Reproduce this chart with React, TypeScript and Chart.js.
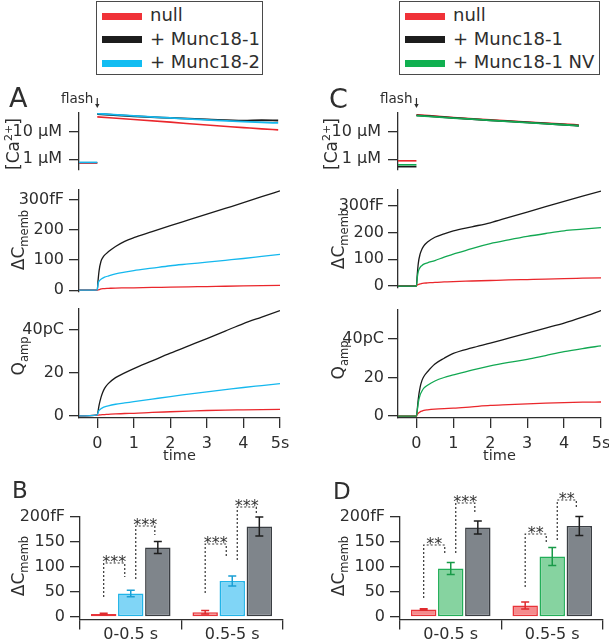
import React, { useEffect, useRef } from "react";
import { Chart, registerables } from "chart.js";
Chart.register(...registerables);

// ---------------- data ----------------
const X_TICKS = [0, 1, 2, 3, 4, 5];
const T = [-0.5, 0, 0.02, 0.05, 0.1, 0.15, 0.2, 0.3, 0.5, 0.75, 1, 1.5, 2, 2.5, 3, 3.5, 4, 4.5, 5];

// Panel A: ΔCmemb (fF)
const DC_A_NULL = [0, 0.5, 1, 2, 4, 5, 5.5, 6, 7, 7.5, 8, 9, 10, 11, 12, 13, 14, 15, 16];
const DC_A_M1 = [0, 1, 30, 65, 95, 108, 116, 127, 145, 162, 174, 194, 214, 233, 252, 271, 290, 310, 329];
const DC_A_M2 = [0, 1, 20, 30, 36, 40, 43, 47, 54, 60, 65, 73, 81, 87, 93, 99, 105, 112, 119];
// Panel A: Qamp (pC)
const Q_A_NULL = [0, 0.3, 0.35, 0.4, 0.5, 0.55, 0.6, 0.7, 0.9, 1.1, 1.2, 1.6, 1.9, 2.2, 2.5, 2.7, 2.8, 2.9, 3.0];
const Q_A_M1 = [0, 0.5, 2, 5, 8.5, 11, 12.8, 15, 17.8, 20, 22, 25.6, 29.2, 32.6, 36, 39.5, 43, 46, 49];
const Q_A_M2 = [0, 0.5, 1.5, 2.5, 3.3, 3.8, 4.2, 4.7, 5.4, 6, 6.6, 7.8, 9, 10.1, 11.2, 12.2, 13.2, 14.1, 15];
// Panel C: ΔCmemb (fF)
const DC_C_NULL = [1, 1, 4, 6, 8, 10, 11, 12, 14, 15.5, 17, 19, 21, 23, 24.5, 26, 28, 29.5, 31];
const DC_C_M1 = [0, 0, 40, 85, 120, 138, 150, 164, 182, 195, 206, 221, 236, 256, 276, 296, 316, 335, 354];
const DC_C_NV = [0, 0, 30, 55, 70, 77, 82, 87, 95, 108, 119, 140, 158, 172, 185, 196, 206, 212, 218];
// Panel C: Qamp (pC)
const Q_C_NULL = [0, 0, 0.8, 1.5, 2.2, 2.6, 2.9, 3.2, 3.6, 3.9, 4.1, 4.8, 5.5, 5.9, 6.3, 6.7, 7.0, 7.2, 7.3];
const Q_C_M1 = [0, 0, 3, 9, 15, 18.5, 20.5, 23, 27, 30, 32.5, 35.3, 37.8, 40.4, 43, 45.6, 48.2, 51.3, 54.7];
const Q_C_NV = [0, 0, 2.5, 7, 11, 13, 14.5, 16, 18.2, 20, 21.3, 23.8, 26, 27.8, 29.4, 31.4, 33.4, 35, 36.4];

// [Ca2+] (µM): pre-flash level and post-flash decay
const CA_PRE_TIME = [-0.5, 0];
const CA_PRE_A = [0.72, 0.74, 0.76]; // null, +Munc18-1, +Munc18-2
const CA_PRE_C = [0.87, 0.53, 0.62]; // null, +Munc18-1, +Munc18-1 NV
const CA_TIME_A = [0, 1, 2, 3, 4, 4.5, 4.95];
const CA_A_NULL = [36, 29, 23, 18, 14.5, 13, 12];
const CA_A_M1 = [46, 38, 33, 29, 26, 27, 26.5];
const CA_A_M2 = [48, 39, 33, 28, 24, 22.5, 21.5];
const CA_TIME_C = [0, 1, 2, 3, 4, 4.4];
const CA_C_NULL = [43, 34, 28, 23, 19.5, 18];
const CA_C_M1 = [41, 33, 27, 22.5, 18.5, 17];
const CA_C_NV = [40, 32.5, 27, 22, 18.5, 17];

// Bar panels (fF, mean and s.e.m.)
const BAR_LABELS = ["0-0.5 s", "0.5-5 s"];
const B_NULL = [6, 9.5];
const B_NULL_ERR = [1.5, 3.3];
const B_M2 = [47, 72];
const B_M2_ERR = [6.5, 10];
const B_M1 = [139, 181];
const B_M1_ERR = [12, 19];
const D_NULL = [15, 23];
const D_NULL_ERR = [1.5, 7];
const D_NV = [97, 121];
const D_NV_ERR = [12, 18];
const D_M1 = [179, 182];
const D_M1_ERR = [13, 19];

// significance brackets: category, from/to dataset, leg heights (fF), label
const B_SIG = [
  { cat: 0, from: 0, to: 1, start: 40, top: 108, end: 80, label: "***" },
  { cat: 0, from: 1, to: 2, start: 76, top: 182, end: 164, label: "***" },
  { cat: 1, from: 0, to: 1, start: 48, top: 146, end: 118, label: "***" },
  { cat: 1, from: 1, to: 2, start: 114, top: 220, end: 204, label: "***" },
];
const D_SIG = [
  { cat: 0, from: 0, to: 1, start: 38, top: 144, end: 128, label: "**" },
  { cat: 0, from: 1, to: 2, start: 128, top: 228, end: 210, label: "***" },
  { cat: 1, from: 0, to: 1, start: 60, top: 166, end: 150, label: "**" },
  { cat: 1, from: 1, to: 2, start: 154, top: 234, end: 218, label: "**" },
];

// ---------------- style ----------------
const FONT = '"DejaVu Sans", Verdana, sans-serif';
const INK = "#2e2e2e";
const RED = "#ea272c";
const BLACK = "#1a1a1a";
const CYAN = "#15b8ee";
const GREEN = "#12a852";

type Rect = { left: number; top: number; width: number; height: number };
type Area = { left: number; top: number; right: number; bottom: number };

const pts = (xs: number[], ys: number[]) => xs.map((x, i) => ({ x, y: ys[i] }));
const line = (data: any[], color: string, width = 1.3) => ({
  data,
  borderColor: color,
  backgroundColor: color,
  borderWidth: width,
  pointRadius: 0,
  cubicInterpolationMode: "monotone",
  fill: false,
});

const axisGrid = { drawOnChartArea: false, drawTicks: true, tickLength: 10, color: INK, lineWidth: 1.3 };
const axisBorder = { display: true, color: INK, width: 1.3 };

function layoutFor(rect: Rect, area: Area, hasX: boolean) {
  return {
    padding: {
      left: 0,
      top: area.top - rect.top,
      right: rect.left + rect.width - area.right,
      bottom: hasX ? 0 : rect.top + rect.height - area.bottom,
    },
  };
}

const flashMark = {
  id: "flashMark",
  afterDraw(chart: any) {
    const { ctx, chartArea } = chart;
    const x = chart.scales.x.getPixelForValue(0);
    const top = chartArea.top;
    ctx.save();
    ctx.fillStyle = INK;
    ctx.strokeStyle = INK;
    ctx.font = `13.5px ${FONT}`;
    ctx.textAlign = "right";
    ctx.textBaseline = "alphabetic";
    ctx.fillText("flash", x - 4, top - 10);
    ctx.lineWidth = 1.2;
    ctx.beginPath();
    ctx.moveTo(x, top - 15);
    ctx.lineTo(x, top - 8);
    ctx.stroke();
    ctx.beginPath();
    ctx.moveTo(x - 2.2, top - 9);
    ctx.lineTo(x + 2.2, top - 9);
    ctx.lineTo(x, top - 5);
    ctx.closePath();
    ctx.fill();
    ctx.restore();
  },
};

function linePanel(o: {
  rect: Rect;
  area: Area;
  hasX: boolean;
  log?: boolean;
  yMin: number;
  yMax: number;
  yTicks: number[];
  yLabel: (v: number) => string;
  yPad: number;
  datasets: any[];
  plugins?: any[];
}) {
  const { rect, area } = o;
  return {
    type: "line",
    data: { datasets: o.datasets },
    plugins: o.plugins || [],
    options: {
      animation: false,
      responsive: false,
      maintainAspectRatio: false,
      layout: layoutFor(rect, area, o.hasX),
      plugins: { legend: { display: false }, tooltip: { enabled: false } },
      scales: {
        x: {
          type: "linear",
          min: -0.5,
          max: 5,
          display: o.hasX,
          afterBuildTicks: (s: any) => {
            s.ticks = X_TICKS.map((v) => ({ value: v }));
          },
          afterFit: (s: any) => {
            s.height = rect.top + rect.height - area.bottom;
            s.paddingLeft = 0;
            s.paddingRight = 0;
          },
          grid: axisGrid,
          border: axisBorder,
          ticks: {
            font: { family: FONT, size: 16 },
            color: INK,
            padding: 6,
            maxRotation: 0,
            autoSkip: false,
            callback: (v: number) => (v === 5 ? "5s" : String(v)),
          },
          title: {
            display: true,
            text: "time",
            font: { family: FONT, size: 14.5 },
            color: INK,
            padding: { top: 0, bottom: 1 },
          },
        },
        y: {
          type: o.log ? "logarithmic" : "linear",
          min: o.yMin,
          max: o.yMax,
          afterBuildTicks: (s: any) => {
            s.ticks = o.yTicks.map((v) => ({ value: v }));
          },
          afterFit: (s: any) => {
            s.width = area.left - rect.left;
            s.paddingTop = 0;
            s.paddingBottom = 0;
          },
          grid: axisGrid,
          border: axisBorder,
          ticks: {
            font: { family: FONT, size: 16 },
            color: INK,
            padding: o.yPad,
            autoSkip: false,
            callback: (v: number) => o.yLabel(v),
          },
        },
      },
    },
  };
}

const barDecor = {
  id: "barDecor",
  afterDatasetsDraw(chart: any, _args: any, opts: any) {
    const { ctx } = chart;
    const y = chart.scales.y;
    ctx.save();
    // error bars
    chart.data.datasets.forEach((ds: any, di: number) => {
      const meta = chart.getDatasetMeta(di);
      meta.data.forEach((bar: any, i: number) => {
        const v = ds.data[i];
        const e = ds.errors[i];
        const yt = y.getPixelForValue(v + e);
        const yb = y.getPixelForValue(v - e);
        ctx.strokeStyle = ds.errorColor;
        ctx.lineWidth = 1.5;
        ctx.beginPath();
        ctx.moveTo(bar.x, yt);
        ctx.lineTo(bar.x, yb);
        ctx.moveTo(bar.x - 4, yt);
        ctx.lineTo(bar.x + 4, yt);
        ctx.moveTo(bar.x - 4, yb);
        ctx.lineTo(bar.x + 4, yb);
        ctx.stroke();
      });
    });
    // significance brackets
    (opts.brackets || []).forEach((b: any) => {
      const x1 = chart.getDatasetMeta(b.from).data[b.cat].x + (b.from === 0 ? 0 : 5);
      const x2 = chart.getDatasetMeta(b.to).data[b.cat].x - (b.to === 1 ? 6 : 3);
      const ys = y.getPixelForValue(b.start);
      const yt = y.getPixelForValue(b.top);
      const ye = y.getPixelForValue(b.end);
      ctx.strokeStyle = "#333";
      ctx.lineWidth = 1.2;
      ctx.setLineDash([2, 2]);
      ctx.beginPath();
      ctx.moveTo(x1, ys);
      ctx.lineTo(x1, yt);
      ctx.lineTo(x2, yt);
      ctx.lineTo(x2, ye);
      ctx.stroke();
      ctx.setLineDash([]);
      ctx.fillStyle = "#333";
      ctx.font = `16px ${FONT}`;
      ctx.textAlign = "center";
      ctx.textBaseline = "alphabetic";
      ctx.fillText(b.label, (x1 + x2) / 2, yt + 3.5);
    });
    ctx.restore();
  },
};

function barPanel(o: { rect: Rect; area: Area; datasets: any[]; brackets: any[] }) {
  const { rect, area } = o;
  return {
    type: "bar",
    data: { labels: BAR_LABELS, datasets: o.datasets },
    plugins: [barDecor],
    options: {
      animation: false,
      responsive: false,
      maintainAspectRatio: false,
      layout: layoutFor(rect, area, true),
      datasets: { bar: { barPercentage: 0.94, categoryPercentage: 0.8, borderSkipped: false } },
      plugins: {
        legend: { display: false },
        tooltip: { enabled: false },
        barDecor: { brackets: o.brackets },
      },
      scales: {
        x: {
          type: "category",
          offset: true,
          afterFit: (s: any) => {
            s.height = rect.top + rect.height - area.bottom;
            s.paddingLeft = 0;
            s.paddingRight = 0;
          },
          grid: { ...axisGrid, offset: true },
          border: axisBorder,
          ticks: { font: { family: FONT, size: 16 }, color: INK, padding: -4, maxRotation: 0, autoSkip: false },
        },
        y: {
          type: "linear",
          min: -5,
          max: 200,
          afterBuildTicks: (s: any) => {
            s.ticks = [0, 50, 100, 150, 200].map((v) => ({ value: v }));
          },
          afterFit: (s: any) => {
            s.width = area.left - rect.left;
            s.paddingTop = 0;
            s.paddingBottom = 0;
          },
          grid: axisGrid,
          border: axisBorder,
          ticks: {
            font: { family: FONT, size: 16 },
            color: INK,
            padding: 5,
            autoSkip: false,
            callback: (v: number) => (v === 200 ? "200fF" : String(v)),
          },
        },
      },
    },
  };
}

const barSet = (data: number[], errors: number[], fill: string, border: string, errColor: string) => ({
  data,
  errors,
  backgroundColor: fill,
  borderColor: border,
  borderWidth: 1.6,
  errorColor: errColor,
});

const caLabel = (v: number) => (v === 10 ? "10 \u00b5M" : "1 \u00b5M");
const dcLabel = (v: number) => (v === 300 ? "300fF" : String(v));
const qLabel = (v: number) => (v === 40 ? "40pC" : String(v));

// ---------------- panel configs ----------------
const CA_A_RECT = { left: 0, top: 88, width: 300, height: 92 };
const CA_C_RECT = { left: 300, top: 88, width: 309, height: 92 };
const DC_A_RECT = { left: 0, top: 182, width: 300, height: 118 };
const DC_C_RECT = { left: 300, top: 182, width: 309, height: 118 };
const Q_A_RECT = { left: 0, top: 300, width: 300, height: 166 };
const Q_C_RECT = { left: 300, top: 300, width: 309, height: 166 };
const B_RECT = { left: 0, top: 478, width: 300, height: 162 };
const D_RECT = { left: 300, top: 478, width: 309, height: 162 };

const panels: { rect: Rect; make: () => any }[] = [
  {
    rect: CA_A_RECT,
    make: () =>
      linePanel({
        rect: CA_A_RECT,
        area: { left: 79, top: 113, right: 280, bottom: 175 },
        hasX: false,
        log: true,
        yMin: 0.4,
        yMax: 50,
        yTicks: [1, 10],
        yLabel: caLabel,
        yPad: 7,
        plugins: [flashMark],
        datasets: [
          line(pts(CA_TIME_A, CA_A_M2), CYAN, 1.8),
          line(pts(CA_TIME_A, CA_A_M1), BLACK, 1.8),
          line(pts(CA_TIME_A, CA_A_NULL), RED, 1.6),
          line(pts(CA_PRE_TIME, [CA_PRE_A[2], CA_PRE_A[2]]), CYAN, 1.6),
          line(pts(CA_PRE_TIME, [CA_PRE_A[0], CA_PRE_A[0]]), RED, 1.6),
          line(pts(CA_PRE_TIME, [CA_PRE_A[1], CA_PRE_A[1]]), BLACK, 1.6),
        ],
      }),
  },
  {
    rect: CA_C_RECT,
    make: () =>
      linePanel({
        rect: CA_C_RECT,
        area: { left: 398, top: 113, right: 601, bottom: 175 },
        hasX: false,
        log: true,
        yMin: 0.4,
        yMax: 50,
        yTicks: [1, 10],
        yLabel: caLabel,
        yPad: 7,
        plugins: [flashMark],
        datasets: [
          line(pts(CA_TIME_C, CA_C_NV), GREEN, 1.8),
          line(pts(CA_TIME_C, CA_C_M1), BLACK, 1.8),
          line(pts(CA_TIME_C, CA_C_NULL), RED, 1.8),
          line(pts(CA_PRE_TIME, [CA_PRE_C[0], CA_PRE_C[0]]), RED, 1.6),
          line(pts(CA_PRE_TIME, [CA_PRE_C[2], CA_PRE_C[2]]), GREEN, 1.6),
          line(pts(CA_PRE_TIME, [CA_PRE_C[1], CA_PRE_C[1]]), BLACK, 1.6),
        ],
      }),
  },
  {
    rect: DC_A_RECT,
    make: () =>
      linePanel({
        rect: DC_A_RECT,
        area: { left: 79, top: 190, right: 280, bottom: 296 },
        hasX: false,
        yMin: -6,
        yMax: 332,
        yTicks: [0, 100, 200, 300],
        yLabel: dcLabel,
        yPad: 5,
        datasets: [
          line(pts(T, DC_A_M2), CYAN),
          line(pts(T, DC_A_NULL), RED),
          line(pts(T, DC_A_M1), BLACK),
        ],
      }),
  },
  {
    rect: DC_C_RECT,
    make: () =>
      linePanel({
        rect: DC_C_RECT,
        area: { left: 398, top: 190, right: 601, bottom: 294 },
        hasX: false,
        yMin: -7,
        yMax: 358,
        yTicks: [0, 100, 200, 300],
        yLabel: dcLabel,
        yPad: 4,
        datasets: [
          line(pts(T, DC_C_NV), GREEN),
          line(pts(T, DC_C_M1), BLACK),
          line(pts(T, DC_C_NULL), RED),
        ],
      }),
  },
  {
    rect: Q_A_RECT,
    make: () =>
      linePanel({
        rect: Q_A_RECT,
        area: { left: 79, top: 308.5, right: 280, bottom: 418 },
        hasX: true,
        yMin: -1,
        yMax: 50,
        yTicks: [0, 20, 40],
        yLabel: qLabel,
        yPad: 5,
        datasets: [
          line(pts(T, Q_A_M2), CYAN),
          line(pts(T, Q_A_NULL), RED),
          line(pts(T, Q_A_M1), BLACK),
        ],
      }),
  },
  {
    rect: Q_C_RECT,
    make: () =>
      linePanel({
        rect: Q_C_RECT,
        area: { left: 398, top: 310, right: 601, bottom: 418 },
        hasX: true,
        yMin: -1,
        yMax: 55,
        yTicks: [0, 20, 40],
        yLabel: qLabel,
        yPad: 4,
        datasets: [
          line(pts(T, Q_C_NV), GREEN),
          line(pts(T, Q_C_NULL), RED),
          line(pts(T, Q_C_M1), BLACK),
        ],
      }),
  },
  {
    rect: B_RECT,
    make: () =>
      barPanel({
        rect: B_RECT,
        area: { left: 80, top: 517, right: 283, bottom: 619.5 },
        brackets: B_SIG,
        datasets: [
          barSet(B_NULL, B_NULL_ERR, "#f58b8d", "#e8343a", "#e02a2e"),
          barSet(B_M2, B_M2_ERR, "#80d5f6", "#22b4e8", "#1a9fd4"),
          barSet(B_M1, B_M1_ERR, "#7f858b", "#3a3e43", "#1e1e1e"),
        ],
      }),
  },
  {
    rect: D_RECT,
    make: () =>
      barPanel({
        rect: D_RECT,
        area: { left: 400, top: 517, right: 603, bottom: 619.5 },
        brackets: D_SIG,
        datasets: [
          barSet(D_NULL, D_NULL_ERR, "#f58b8d", "#e8343a", "#e02a2e"),
          barSet(D_NV, D_NV_ERR, "#86d3a0", "#22ae58", "#189a48"),
          barSet(D_M1, D_M1_ERR, "#7f858b", "#3a3e43", "#1e1e1e"),
        ],
      }),
  },
];

// ---------------- components ----------------
function ChartCanvas({ rect, make }: { rect: Rect; make: () => any }) {
  const ref = useRef<HTMLCanvasElement>(null);
  useEffect(() => {
    const chart = new Chart(ref.current as HTMLCanvasElement, make());
    return () => chart.destroy();
  }, []);
  return (
    <canvas
      ref={ref}
      width={rect.width}
      height={rect.height}
      style={{ position: "absolute", left: rect.left, top: rect.top, width: rect.width, height: rect.height, display: "block" }}
    />
  );
}

function Text({ x, baseline, size, children }: { x: number; baseline: number; size: number; children: any }) {
  return (
    <div
      style={{
        position: "absolute",
        left: x,
        top: baseline - 0.846 * size,
        fontFamily: FONT,
        fontSize: size,
        lineHeight: 1,
        color: INK,
        whiteSpace: "nowrap",
      }}
    >
      {children}
    </div>
  );
}

function VTitle({ cx, cy, children }: { cx: number; cy: number; children: any }) {
  return (
    <div
      style={{
        position: "absolute",
        left: cx,
        top: cy,
        transform: "translate(-50%,-50%) rotate(-90deg)",
        fontFamily: FONT,
        fontSize: 17,
        lineHeight: 1,
        color: INK,
        whiteSpace: "nowrap",
      }}
    >
      {children}
    </div>
  );
}

const Sub = ({ children }: { children: any }) => (
  <span style={{ fontSize: 11.5, position: "relative", top: 4 }}>{children}</span>
);
const Sup = ({ children }: { children: any }) => (
  <span style={{ fontSize: 11, position: "relative", top: -7 }}>{children}</span>
);

function Legend({ left, width, items }: { left: number; width: number; items: { label: string; color: string }[] }) {
  return (
    <div
      style={{
        position: "absolute",
        left,
        top: 1,
        width,
        height: 74,
        boxSizing: "border-box",
        border: "1.5px solid #4a4a4a",
        background: "#fff",
      }}
    >
      {items.map((it, i) => (
        <React.Fragment key={i}>
          <div
            style={{
              position: "absolute",
              left: 5,
              top: 11 + i * 23.3,
              width: 40,
              height: 7,
              background: it.color,
            }}
          />
          <Text x={53} baseline={19.5 + i * 23.3} size={18}>
            {it.label}
          </Text>
        </React.Fragment>
      ))}
    </div>
  );
}

export default function App() {
  return (
    <div style={{ position: "absolute", left: 0, top: 0, width: 609, height: 640, background: "#fff", overflow: "hidden" }}>
      {panels.map((p, i) => (
        <ChartCanvas key={i} rect={p.rect} make={p.make} />
      ))}
      <Legend
        left={96}
        width={167}
        items={[
          { label: "null", color: "#f03238" },
          { label: "+ Munc18-1", color: "#1d1d1d" },
          { label: "+ Munc18-2", color: "#12bdf2" },
        ]}
      />
      <Legend
        left={399}
        width={201}
        items={[
          { label: "null", color: "#f03238" },
          { label: "+ Munc18-1", color: "#1d1d1d" },
          { label: "+ Munc18-1 NV", color: "#10b050" },
        ]}
      />
      <Text x={9} baseline={107} size={27}>A</Text>
      <Text x={329} baseline={108} size={27}>C</Text>
      <Text x={12} baseline={498} size={23}>B</Text>
      <Text x={333} baseline={499} size={23}>D</Text>

      <VTitle cx={13} cy={144}>
        [Ca<Sup>2+</Sup>]
      </VTitle>
      <VTitle cx={18} cy={240}>
        ΔC<Sub>memb</Sub>
      </VTitle>
      <VTitle cx={18} cy={356}>
        Q<Sub>amp</Sub>
      </VTitle>
      <VTitle cx={331} cy={144}>
        [Ca<Sup>2+</Sup>]
      </VTitle>
      <VTitle cx={338} cy={239}>
        ΔC<Sub>memb</Sub>
      </VTitle>
      <VTitle cx={338} cy={360}>
        Q<Sub>amp</Sub>
      </VTitle>
      <VTitle cx={18} cy={566}>
        ΔC<Sub>memb</Sub>
      </VTitle>
      <VTitle cx={338} cy={566}>
        ΔC<Sub>memb</Sub>
      </VTitle>
    </div>
  );
}
